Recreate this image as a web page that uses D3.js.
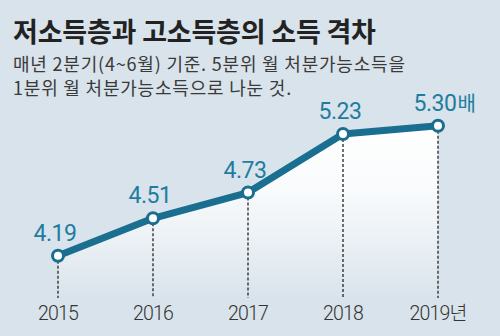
<!DOCTYPE html>
<html><head><meta charset="utf-8">
<script src="https://cdn.jsdelivr.net/npm/d3@7/dist/d3.min.js"></script>
<style>
html,body{margin:0;padding:0;background:#d8e3eb;}
svg{display:block;}
</style></head>
<body>
<script>
// Income ratio: top quintile disposable income / bottom quintile (Q2 each year)
const years = ["2015", "2016", "2017", "2018", "2019"];
const yearLabels = ["2015", "2016", "2017", "2018", "2019년"];
const ratios = [4.19, 4.51, 4.73, 5.23, 5.30];
const valueLabels = ["4.19", "4.51", "4.73", "5.23", "5.30"];

const W = 500, H = 336;
const blue = "#1a6e90";
const labelBlue = "#1f7ca0";
const bg = "#d8e3eb";

const svg = d3.select("body").append("svg").attr("width", W).attr("height", H);

svg.append("rect").attr("width", W).attr("height", H).attr("fill", bg);

const x = d3.scalePoint().domain(years).range([58, 438]);
const y = d3.scaleLinear().domain([4, 5.5]).range([278, 102.4]);
const baseY = 300;

// Gradient under the line
const defs = svg.append("defs");
const grad = defs.append("linearGradient").attr("id", "areaFill")
  .attr("x1", 0).attr("y1", 0).attr("x2", 0).attr("y2", 1);
grad.append("stop").attr("offset", "0%").attr("stop-color", "#ffffff").attr("stop-opacity", 1);
grad.append("stop").attr("offset", "35%").attr("stop-color", "#ffffff").attr("stop-opacity", 0.85);
grad.append("stop").attr("offset", "100%").attr("stop-color", bg).attr("stop-opacity", 1);

const data = years.map((yr, i) => ({ yr, v: ratios[i], vl: valueLabels[i], xl: yearLabels[i] }));

svg.append("path").datum(data)
  .attr("fill", "url(#areaFill)")
  .attr("d", d3.area().x(d => x(d.yr)).y0(baseY).y1(d => y(d.v)));

// Title and note
svg.append("text").attr("x", 13).attr("y", 42)
  .attr("font-family", "'Noto Sans CJK KR'").attr("font-weight", 700)
  .attr("font-size", 27).attr("letter-spacing", -0.2).attr("fill", "#222")
  .text("저소득층과 고소득층의 소득 격차");

const note = ["매년 2분기(4~6월) 기준. 5분위 월 처분가능소득을", "1분위 월 처분가능소득으로 나눈 것."];
svg.append("text")
  .attr("font-family", "'Noto Sans CJK KR'").attr("font-size", 18)
  .attr("letter-spacing", 0.8).attr("fill", "#3a3a3a")
  .selectAll("tspan").data(note).join("tspan")
  .attr("x", 13).attr("y", (d, i) => 71 + i * 24)
  .text(d => d);

// Dashed drop lines
svg.append("g").selectAll("line").data(data).join("line")
  .attr("x1", d => x(d.yr)).attr("x2", d => x(d.yr))
  .attr("y1", d => y(d.v)).attr("y2", 298)
  .attr("stroke", "#333").attr("stroke-width", 1.4).attr("stroke-dasharray", "3,2");

// Line
svg.append("path").datum(data)
  .attr("fill", "none").attr("stroke", blue).attr("stroke-width", 7)
  .attr("stroke-linejoin", "round")
  .attr("d", d3.line().x(d => x(d.yr)).y(d => y(d.v)));

// Points
svg.append("g").selectAll("circle").data(data).join("circle")
  .attr("cx", d => x(d.yr)).attr("cy", d => y(d.v)).attr("r", 5.5)
  .attr("fill", "#fff").attr("stroke", blue).attr("stroke-width", 3);

// Value labels
const vt = svg.append("g").selectAll("text").data(data).join("text")
  .attr("x", d => x(d.yr) - 3).attr("y", d => y(d.v) - 15)
  .attr("text-anchor", "middle")
  .attr("font-family", "Roboto").attr("font-size", 23).attr("letter-spacing", -0.5)
  .attr("fill", labelBlue)
  .text(d => d.vl);

// Unit after the last value
const lastNode = vt.nodes()[vt.size() - 1];
const lb = lastNode.getBBox();
const last = data[data.length - 1];
svg.append("text").attr("x", lb.x + lb.width + 1).attr("y", y(last.v) - 15)
  .attr("font-family", "'Noto Sans CJK KR'").attr("font-size", 20).attr("fill", labelBlue)
  .text("배");

// Year labels
svg.append("g").selectAll("text").data(data).join("text")
  .attr("x", d => x(d.yr)).attr("y", 320)
  .attr("text-anchor", "middle")
  .attr("font-family", "Roboto, 'Noto Sans CJK KR'").attr("font-size", 19.5)
  .attr("font-weight", 300)
  .attr("letter-spacing", -0.8).attr("fill", "#333")
  .text(d => d.xl);
</script>
</body></html>
